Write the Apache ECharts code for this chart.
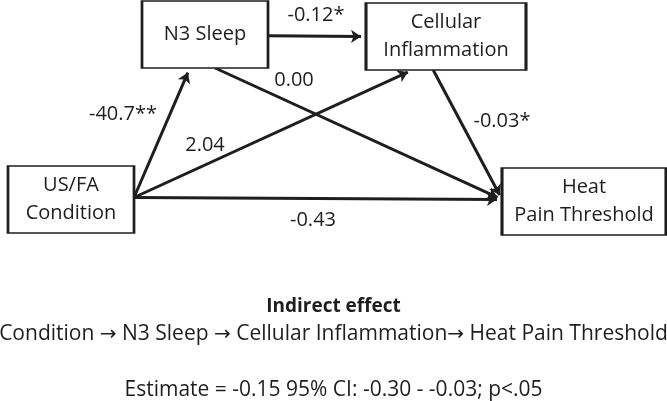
<!DOCTYPE html>
<html>
<head>
<meta charset="utf-8">
<script src="https://cdn.jsdelivr.net/npm/echarts@6/dist/echarts.min.js"></script>
<style>
    html, body { margin: 0; padding: 0; background: #fff; }
    #chart { width: 667px; height: 401px; }
</style>
</head>
<body>
<div id="chart"></div>
<script>
// Path model data
const nodeNames = ['N3 Sleep', 'Cellular\nInflammation', 'US/FA\nCondition', 'Heat\nPain Threshold'];
const edgeSources = [2, 2, 2, 0, 0, 1];
const edgeTargets = [0, 1, 3, 1, 3, 3];
const edgeLabels = ['-40.7**', '2.04', '-0.43', '-0.12*', '0.00', '-0.03*'];
const noteTitle = 'Indirect effect';
const notePath = 'Condition \u2192 N3 Sleep \u2192 Cellular Inflammation\u2192 Heat Pain Threshold';
const noteStats = 'Estimate = -0.15 95% CI: -0.30 - -0.03; p<.05';

// Layout (pixel space of the hidden axes): box [left, top, width, height]
const nodeBoxes = [[142, 1, 126, 67], [366, 3, 160, 67], [8, 166, 126, 67], [502, 168, 164, 67]];
// where each edge leaves / enters its box: [side, fraction along side]
const edgeFrom = [['r', 0.47], ['r', 0.47], ['r', 0.47], ['r', 0.52], ['b', 0.58], ['b', 0.42]];
const edgeTo = [['b', 0.38], ['b', 0.29], ['l', 0.47], ['l', 0.5], ['l', 0.47], ['l', 0.47]];
const labelSpots = [[123, 114], [205, 145], [313, 220], [316, 15], [294, 80], [502, 121]];

const FONT = '"Open Sans", "Noto Sans", sans-serif';
const INK = '#1e1e1e';
const ARROW = 10;

function anchorPoint(box, spec) {
    const [l, t, w, h] = box;
    const [side, f] = spec;
    if (side === 'r') return [l + w, t + h * f];
    if (side === 'l') return [l, t + h * f];
    if (side === 'b') return [l + w * f, t + h];
    return [l + w * f, t];
}

const edgeData = edgeSources.map((s, i) => {
    const p0 = anchorPoint(nodeBoxes[s], edgeFrom[i]);
    const p1 = anchorPoint(nodeBoxes[edgeTargets[i]], edgeTo[i]);
    // pull the end back so the arrow tip touches the box
    const dx = p1[0] - p0[0], dy = p1[1] - p0[1];
    const len = Math.sqrt(dx * dx + dy * dy);
    const back = ARROW / 2;
    return { coords: [p0, [p1[0] - dx / len * back, p1[1] - dy / len * back]] };
});

const nodeData = nodeNames.map((name, i) => {
    const [l, t, w, h] = nodeBoxes[i];
    return { name: name, value: [l + w / 2, t + h / 2], symbolSize: [w, h] };
});

const labelData = edgeLabels.map((txt, i) => ({ name: txt, value: labelSpots[i] }));

// arrows in the note look better in DejaVu
const arrowRich = { a: { fontFamily: '"DejaVu Sans"', fontSize: 20, color: INK } };
const withArrows = s => s.replace(/\u2192/g, '{a|\u2192}');

const chart = echarts.init(document.getElementById('chart'));
chart.setOption({
    animation: false,
    backgroundColor: '#fff',
    grid: { left: 0, right: 0, top: 0, bottom: 0 },
    xAxis: { type: 'value', min: 0, max: 667, show: false },
    yAxis: { type: 'value', min: 0, max: 401, inverse: true, show: false },
    title: [
        { text: noteTitle, left: 'center', top: 292, textStyle: { fontFamily: FONT, fontSize: 19, fontWeight: 'bold', color: INK } },
        { text: withArrows(notePath), left: 'center', top: 319, textStyle: { fontFamily: FONT, fontSize: 21, fontWeight: 'normal', color: INK, rich: arrowRich } },
        { text: noteStats, left: 'center', top: 375, textStyle: { fontFamily: FONT, fontSize: 21, fontWeight: 'normal', color: INK } }
    ],
    series: [
        {
            type: 'lines',
            coordinateSystem: 'cartesian2d',
            z: 1,
            symbol: ['none', 'arrow'],
            symbolSize: ARROW,
            lineStyle: { color: INK, width: 3, opacity: 1, curveness: 0 },
            data: edgeData
        },
        {
            type: 'scatter',
            z: 3,
            symbol: 'rect',
            itemStyle: { color: '#fff', borderColor: INK, borderWidth: 2, opacity: 1 },
            label: {
                show: true,
                position: 'inside',
                formatter: p => p.name,
                fontFamily: FONT,
                fontSize: 20,
                lineHeight: 28,
                color: INK
            },
            data: nodeData
        },
        {
            type: 'scatter',
            z: 4,
            symbolSize: 0,
            itemStyle: { opacity: 1 },
            label: {
                show: true,
                position: 'inside',
                formatter: p => p.name,
                fontFamily: FONT,
                fontSize: 20,
                color: INK
            },
            data: labelData
        }
    ]
});
</script>
</body>
</html>
